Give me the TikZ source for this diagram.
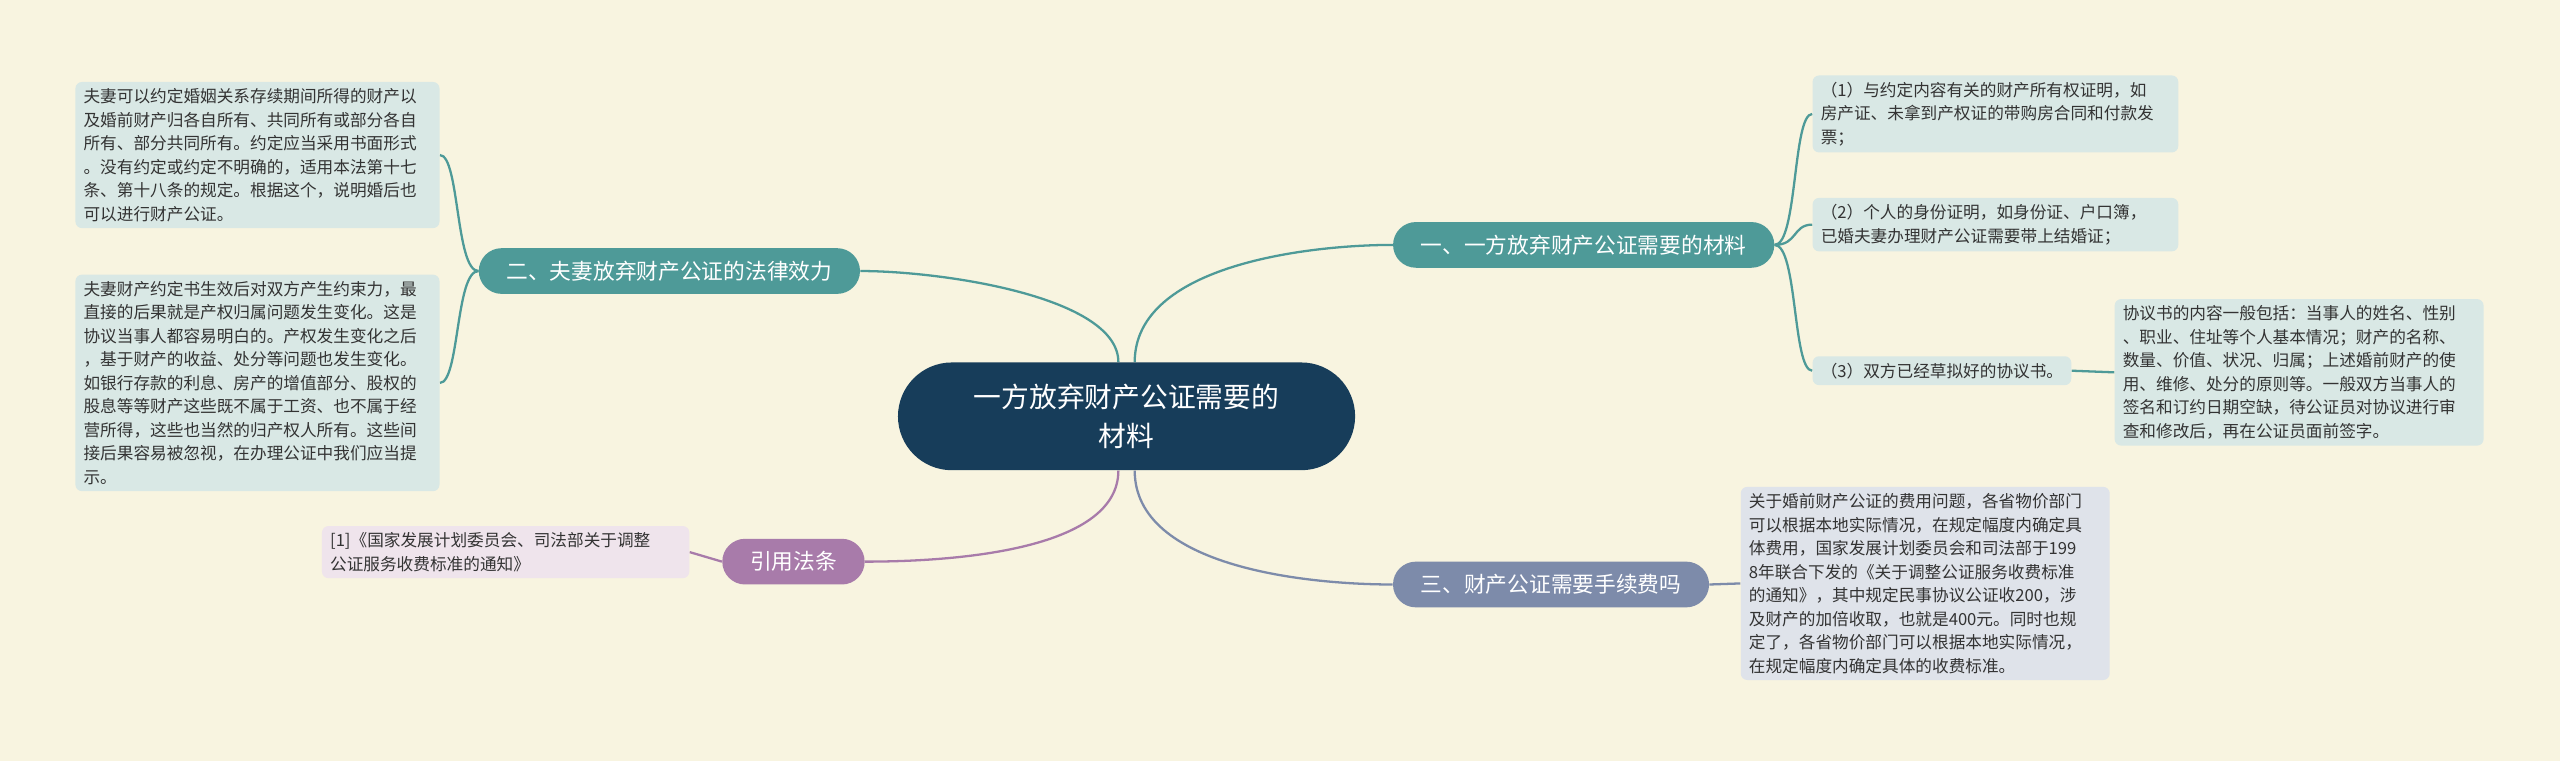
\documentclass[tikz,border=0pt]{standalone}
\usepackage{fontspec}
\setmainfont{Noto Sans CJK SC}
\usetikzlibrary{backgrounds}
\definecolor{bg}{HTML}{F8F4E0}
\definecolor{navy}{HTML}{173D5A}
\definecolor{teal}{HTML}{4E9A98}
\definecolor{purp}{HTML}{A87BAA}
\definecolor{gblue}{HTML}{7D8BAA}
\definecolor{lteal}{HTML}{D9E8E5}
\definecolor{lpurp}{HTML}{EFE4EC}
\definecolor{lgray}{HTML}{DFE3EA}
\tikzset{
 leaf/.style={rounded corners=4pt,inner xsep=5pt,inner ysep=4pt,align=left,anchor=north west,font=\fontsize{10.2}{14.4}\selectfont,text=black!80},
 br/.style={rounded corners=14pt,minimum height=28pt,inner xsep=17pt,font=\fontsize{13.3}{16}\selectfont,text=white},
 con/.style={line width=1.4pt}
}
\begin{document}
\begin{tikzpicture}[x=1pt,y=-1pt]
\useasboundingbox (0,0) rectangle (1568,466);
\node[fill=navy,rounded corners=33pt,minimum width=280pt,minimum height=66pt,align=center,text=white,font=\fontsize{17}{24}\selectfont] (c) at (690,255) {一方放弃财产公证需要的\\材料};
\node[br,fill=teal] (b1) at (970,150) {一、一方放弃财产公证需要的材料};
\node[br,fill=teal] (b2) at (410,166) {二、夫妻放弃财产公证的法律效力};
\node[br,fill=purp] (b4) at (486,344) {引用法条};
\node[br,fill=gblue] (b3) at (950,358) {三、财产公证需要手续费吗};
\node[leaf,fill=lteal,text width=214pt] (r1) at (1110,46) {（1）与约定内容有关的财产所有权证明，如\\房产证、未拿到产权证的带购房合同和付款发\\票；};
\node[leaf,fill=lteal,text width=214pt] (r2) at (1110,121) {（2）个人的身份证明，如身份证、户口簿，\\已婚夫妻办理财产公证需要带上结婚证；};
\node[leaf,fill=lteal] (r3) at (1110,218) {（3）双方已经草拟好的协议书。};
\node[leaf,fill=lteal,text width=216pt] (r4) at (1295,183) {协议书的内容一般包括：当事人的姓名、性别\\、职业、住址等个人基本情况；财产的名称、\\数量、价值、状况、归属；上述婚前财产的使\\用、维修、处分的原则等。一般双方当事人的\\签名和订约日期空缺，待公证员对协议进行审\\查和修改后，再在公证员面前签字。};
\node[leaf,fill=lteal,text width=213pt] (l1) at (46,50) {夫妻可以约定婚姻关系存续期间所得的财产以\\及婚前财产归各自所有、共同所有或部分各自\\所有、部分共同所有。约定应当采用书面形式\\。没有约定或约定不明确的，适用本法第十七\\条、第十八条的规定。根据这个，说明婚后也\\可以进行财产公证。};
\node[leaf,fill=lteal,text width=213pt] (l2) at (46,168) {夫妻财产约定书生效后对双方产生约束力，最\\直接的后果就是产权归属问题发生变化。这是\\协议当事人都容易明白的。产权发生变化之后\\，基于财产的收益、处分等问题也发生变化。\\如银行存款的利息、房产的增值部分、股权的\\股息等等财产这些既不属于工资、也不属于经\\营所得，这些也当然的归产权人所有。这些间\\接后果容易被忽视，在办理公证中我们应当提\\示。};
\node[leaf,fill=lpurp,text width=215pt] (p1) at (197,322) {[1]《国家发展计划委员会、司法部关于调整\\公证服务收费标准的通知》};
\node[leaf,fill=lgray,text width=216pt] (g1) at (1066,298) {关于婚前财产公证的费用问题，各省物价部门\\可以根据本地实际情况，在规定幅度内确定具\\体费用，国家发展计划委员会和司法部于199\\8年联合下发的《关于调整公证服务收费标准\\的通知》，其中规定民事协议公证收200，涉\\及财产的加倍收取，也就是400元。同时也规\\定了，各省物价部门可以根据本地实际情况，\\在规定幅度内确定具体的收费标准。};
\begin{scope}[on background layer]
\fill[bg] (0,0) rectangle (1568,466);
\draw[con,teal] (c.north) ++(5,0) .. controls +(0,-60) and +(-50,0) .. (b1.west);
\draw[con,teal] (c.north) ++(-5,0) .. controls +(0,-40) and +(50,0) .. (b2.east);
\draw[con,purp] (c.south) ++(-5,0) .. controls +(0,50) and +(50,0) .. (b4.east);
\draw[con,gblue] (c.south) ++(5,0) .. controls +(0,60) and +(-50,0) .. (b3.west);
\draw[con,teal] (b1.east) .. controls +(14,0) and +(-12,0) .. (r1.west);
\draw[con,teal] (b1.east) .. controls +(14,0) and +(-12,0) .. (r2.west);
\draw[con,teal] (b1.east) .. controls +(14,0) and +(-12,0) .. (r3.west);
\draw[con,teal] (r3.east) -- (r4.west);
\draw[con,teal] (b2.west) .. controls +(-14,0) and +(12,0) .. (l1.east);
\draw[con,teal] (b2.west) .. controls +(-14,0) and +(12,0) .. (l2.east);
\draw[con,purp] (b4.west) -- (p1.east);
\draw[con,gblue] (b3.east) -- (g1.west);
\end{scope}
\end{tikzpicture}
\end{document}
